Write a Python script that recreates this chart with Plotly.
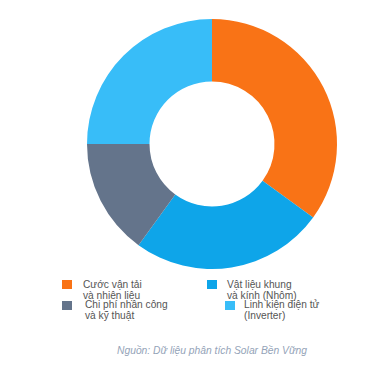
import plotly.graph_objects as go

# Data
label_lines = [
    ["Cước vận tải", "và nhiên liệu"],
    ["Vật liệu khung", "và kính (Nhôm)"],
    ["Chi phí nhân công", "và kỹ thuật"],
    ["Linh kiện điện tử", "(Inverter)"],
]
labels = [" ".join(l) for l in label_lines]
values = [35, 25, 15, 25]
colors = ["#F97316", "#0EA5E9", "#64748B", "#38BDF8"]
source_text = "Nguồn: Dữ liệu phân tích Solar Bền Vững"

# page body has an 8px margin; figure is placed at (8, 8)
OFF = 8
W, H = 382 - 2 * OFF, 373 - 2 * OFF

def px(x):
    return (x - OFF) / W

def py(y):
    return 1 - (y - OFF) / H

FONT = "Liberation Sans, Arial, Helvetica, sans-serif"

fig = go.Figure()
fig.add_trace(go.Pie(
    labels=labels,
    values=values,
    marker=dict(colors=colors, line=dict(width=0)),
    hole=0.5,
    sort=False,
    direction="clockwise",
    rotation=0,
    textinfo="none",
    hoverinfo="label+percent",
    showlegend=False,
    domain=dict(x=[px(87), px(337)], y=[py(269), py(19)]),
))

# Custom legend laid out like the reference
box_pos = [(62, 280), (207, 280), (62, 301), (225, 301)]
text_pos = [(81, 284, 295), (225, 284, 295), (83, 304, 315), (242, 304, 315)]
shapes = []
annotations = []
for i, lines in enumerate(label_lines):
    bx, by = box_pos[i]
    shapes.append(dict(type="rect", xref="paper", yref="paper",
                       x0=px(bx), x1=px(bx + 10), y0=py(by + 9), y1=py(by),
                       fillcolor=colors[i], line=dict(width=0)))
    tx, y1, y2 = text_pos[i]
    for line, yy in zip(lines, (y1, y2)):
        annotations.append(dict(text=line, x=px(tx), y=py(yy), xref="paper", yref="paper",
                                xanchor="left", yanchor="middle", showarrow=False,
                                font=dict(size=10.2, color="#555555", family=FONT)))

annotations.append(dict(text="<i>" + source_text + "</i>", x=px(212), y=py(350),
                        xref="paper", yref="paper", xanchor="center", yanchor="middle",
                        showarrow=False,
                        font=dict(size=10.3, color="#94A3B8", family=FONT)))

fig.update_layout(
    width=W, height=H,
    margin=dict(l=0, r=0, t=0, b=0),
    paper_bgcolor="white",
    plot_bgcolor="white",
    shapes=shapes,
    annotations=annotations,
)

fig.write_html("out.html")
